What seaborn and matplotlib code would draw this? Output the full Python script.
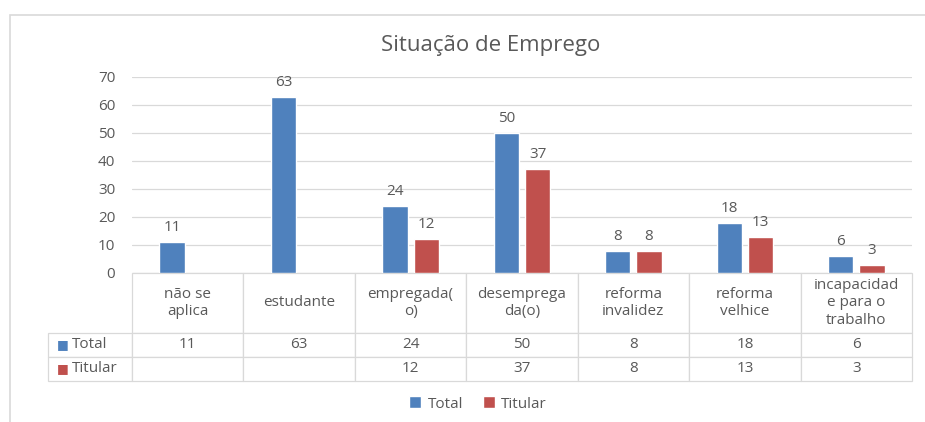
import numpy as np
import pandas as pd
import matplotlib
matplotlib.use("Agg")
import matplotlib.pyplot as plt
import seaborn as sns
from matplotlib.table import Table
from matplotlib.patches import Rectangle

# data
categories = ["não se aplica", "estudante", "empregada(o)", "desempregada(o)",
              "reforma invalidez", "reforma velhice", "incapacidade para o trabalho"]
header_labels = ["não se\naplica", "estudante", "empregada(\no)", "desemprega\nda(o)",
                 "reforma\ninvalidez", "reforma\nvelhice", "incapacidad\ne para o\ntrabalho"]
series = ["Total", "Titular"]
total = [11, 63, 24, 50, 8, 18, 6]
titular = [np.nan, np.nan, 12, 37, 8, 13, 3]
colors = ["#4F81BD", "#C0504D"]

TEXT = "#595959"
LINE = "#D9D9D9"
W, H = 925, 422


def fmt_val(v):
    return "" if np.isnan(v) else f"{v:g}"


def main():
    df = pd.DataFrame({
        "categoria": categories * 2,
        "serie": [series[0]] * len(total) + [series[1]] * len(titular),
        "valor": total + titular,
    })

    sns.set_theme(style="white")
    plt.rcParams["font.family"] = ["Open Sans", "DejaVu Sans"]

    fig = plt.figure(figsize=(W / 100, H / 100), dpi=100)
    ax = fig.add_axes([132 / W, 1 - 273 / H, 780 / W, 196 / H])

    sns.barplot(data=df, x="categoria", y="valor", hue="serie", order=categories,
                hue_order=series, palette=colors, saturation=1, width=0.56, gap=0.19,
                errorbar=None, ax=ax)

    for cont in ax.containers:
        ax.bar_label(cont, fmt=fmt_val, padding=5, color=TEXT, fontsize=11)

    ax.set_xlim(-0.5, len(categories) - 0.5)
    ax.set_ylim(0, 70)
    ax.set_yticks(range(0, 80, 10))
    ax.set_xticks([])
    ax.set_xlabel("")
    ax.set_ylabel("")
    ax.tick_params(axis="y", length=0, pad=12, labelsize=11, labelcolor=TEXT)
    ax.grid(axis="y", color=LINE, lw=0.9)
    ax.set_axisbelow(True)
    for s in ax.spines.values():
        s.set_visible(False)

    # data table under the plot
    lab_w = 84
    col_w = 780 / len(categories)
    tbl = Table(ax, bbox=[-lab_w / 780, -108 / 196, (lab_w + 780) / 780, 108 / 196])
    rows = [header_labels,
            [fmt_val(v) for v in total],
            [fmt_val(v) for v in titular]]
    heights = [60, 24, 24]
    for r, (vals, h) in enumerate(zip(rows, heights)):
        c0 = tbl.add_cell(r, 0, width=lab_w, height=h, text="")
        c0.set_edgecolor(LINE)
        c0.set_linewidth(0.9)
        if r == 0:
            c0.visible_edges = ""
        for c, txt in enumerate(vals, start=1):
            cell = tbl.add_cell(r, c, width=col_w, height=h, text=txt, loc="center")
            cell.set_edgecolor(LINE)
            cell.set_linewidth(0.9)
            cell.get_text().set_color(TEXT)
    tbl.auto_set_font_size(False)
    tbl.set_fontsize(11)
    ax.add_table(tbl)

    # row labels with colour keys
    for name, col, y in zip(series, colors, [-72 / 196, -96 / 196]):
        ax.text(-75 / 780, y, "■", color=col, fontsize=9, ha="left", va="center",
                transform=ax.transAxes, family="DejaVu Sans")
        ax.text(-60 / 780, y, name, color=TEXT, fontsize=11, ha="left", va="center",
                transform=ax.transAxes)

    handles, labels = ax.get_legend_handles_labels()
    ax.legend(handles, labels, loc="center", bbox_to_anchor=(346 / 780, -131 / 196),
              ncol=2, frameon=False, fontsize=11, handlelength=0.8, handleheight=0.8,
              handletextpad=0.4, columnspacing=1.3, labelcolor=TEXT)

    fig.text(491 / W, 1 - 45 / H, "Situação de Emprego", ha="center", va="center",
             fontsize=16, color=TEXT)

    # chart frame
    fig.patches.append(Rectangle((10 / W, -0.05), 1.2, 1.05 - 15 / H, fill=False,
                                 edgecolor=LINE, lw=1.2, transform=fig.transFigure))

    fig.savefig("out.png", dpi=100)


if __name__ == "__main__":
    main()
